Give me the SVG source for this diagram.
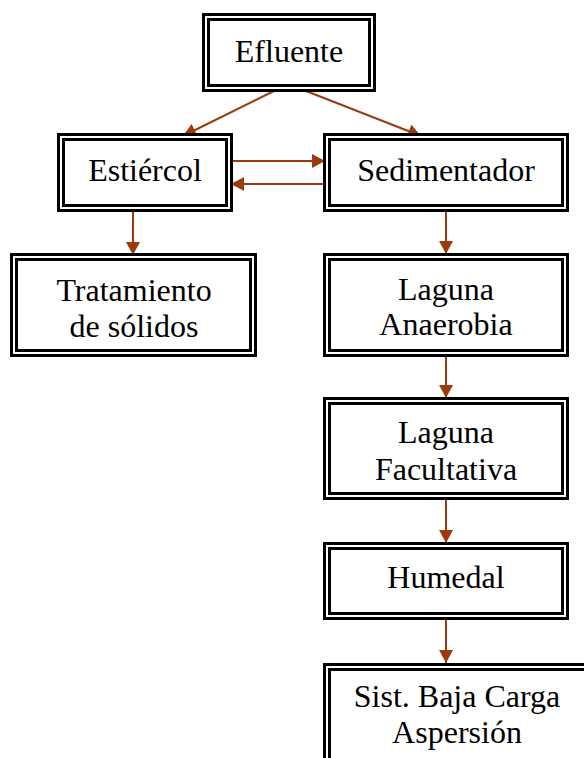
<svg xmlns="http://www.w3.org/2000/svg" width="584" height="758" viewBox="0 0 584 758">
  <style>
    .outer { fill: #ffffff; stroke: #000000; stroke-width: 3; }
    .inner { fill: none; stroke: #000000; stroke-width: 3; }
    .label { font-family: "Liberation Serif", "Times New Roman", serif; font-size: 32px; fill: #000000; text-anchor: middle; }
    .flow { fill: none; stroke: #9C3A0E; stroke-width: 2; marker-end: url(#head); }
  </style>
  <defs>
    <marker id="head" markerUnits="userSpaceOnUse" markerWidth="16" markerHeight="16" viewBox="0 0 16 16" refX="14" refY="8" orient="auto">
      <path d="M1,1 L14,8 L1,15 Z" fill="#9C3A0E"/>
    </marker>
  </defs>

  <rect width="584" height="758" fill="#ffffff"/>

  <!-- connectors -->
  <g id="connectors">
    <path class="flow" d="M278,89 L183,136"/>
    <path class="flow" d="M301,89 L421,136"/>
    <path class="flow" d="M230,161 L325,161"/>
    <path class="flow" d="M327,184 L231,184"/>
    <path class="flow" d="M133,212 L133,255"/>
    <path class="flow" d="M446,212 L446,254"/>
    <path class="flow" d="M446,357 L446,398"/>
    <path class="flow" d="M446,500 L446,543"/>
    <path class="flow" d="M446,620 L446,663"/>
  </g>

  <!-- nodes -->
  <g id="efluente">
    <rect class="outer" x="203.5" y="14.5" width="171" height="76"/>
    <rect class="inner" x="208.5" y="19.5" width="161" height="66"/>
    <text class="label" x="289" y="62">Efluente</text>
  </g>

  <g id="estiercol">
    <rect class="outer" x="58.5" y="134.5" width="173" height="76"/>
    <rect class="inner" x="63.5" y="139.5" width="163" height="66"/>
    <text class="label" x="145" y="181">Estiércol</text>
  </g>

  <g id="sedimentador">
    <rect class="outer" x="324.5" y="134.5" width="243" height="76"/>
    <rect class="inner" x="329.5" y="139.5" width="233" height="66"/>
    <text class="label" x="446" y="181">Sedimentador</text>
  </g>

  <g id="tratamiento">
    <rect class="outer" x="11.5" y="254.5" width="244" height="101"/>
    <rect class="inner" x="16.5" y="259.5" width="234" height="91"/>
    <text class="label" x="134" y="301">Tratamiento</text>
    <text class="label" x="134" y="337">de sólidos</text>
  </g>

  <g id="laguna-anaerobia">
    <rect class="outer" x="324.5" y="254.5" width="243" height="101"/>
    <rect class="inner" x="329.5" y="259.5" width="233" height="91"/>
    <text class="label" x="446" y="300">Laguna</text>
    <text class="label" x="446" y="335">Anaerobia</text>
  </g>

  <g id="laguna-facultativa">
    <rect class="outer" x="324.5" y="398.5" width="243" height="100"/>
    <rect class="inner" x="329.5" y="403.5" width="233" height="90"/>
    <text class="label" x="446" y="443">Laguna</text>
    <text class="label" x="446" y="480">Facultativa</text>
  </g>

  <g id="humedal">
    <rect class="outer" x="324.5" y="543.5" width="243" height="75"/>
    <rect class="inner" x="329.5" y="548.5" width="233" height="65"/>
    <text class="label" x="446" y="588">Humedal</text>
  </g>

  <g id="baja-carga">
    <rect class="outer" x="324.5" y="664.5" width="280" height="120"/>
    <rect class="inner" x="329.5" y="669.5" width="270" height="110"/>
    <text class="label" x="457" y="707">Sist. Baja Carga</text>
    <text class="label" x="457" y="743">Aspersión</text>
  </g>
</svg>
